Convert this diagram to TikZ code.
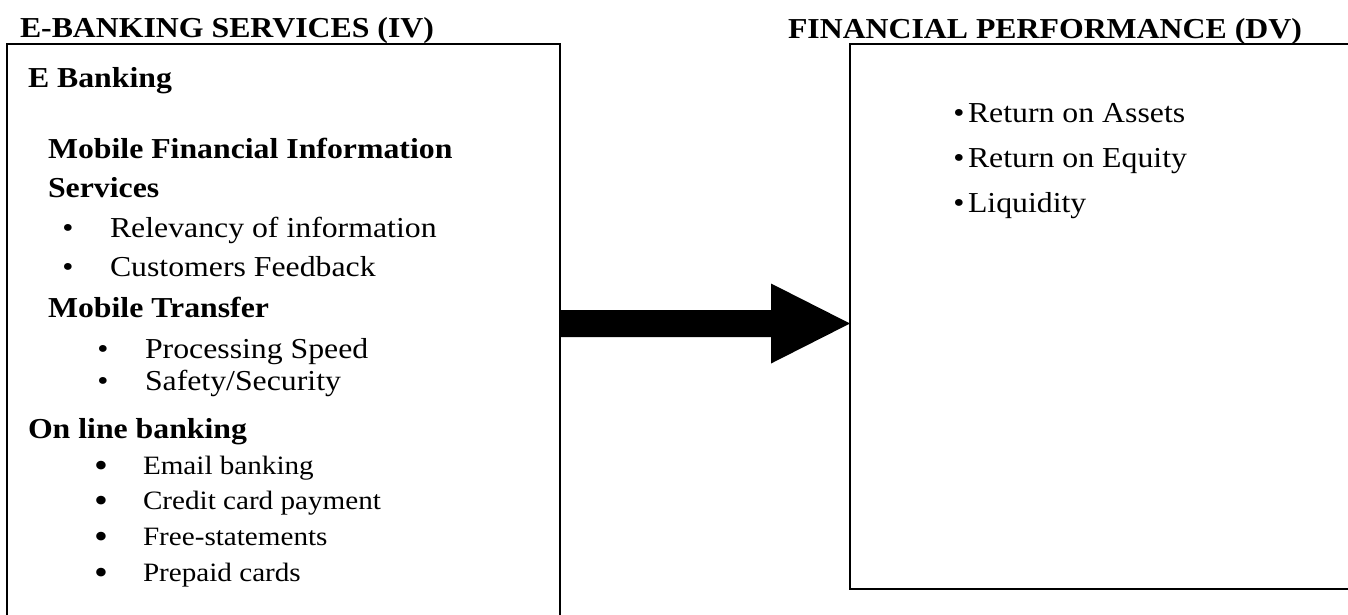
\documentclass[tikz,border=0pt]{standalone}
\usepackage{fontspec}
\setmainfont{Liberation Serif}[FakeStretch=1.1]
\usetikzlibrary{calc}
\newcommand\myhead{\fontsize{28.9}{34}\selectfont\bfseries}
\newcommand\mybody{\fontsize{28.9}{34}\selectfont}
\newcommand\mysmall{\fontsize{26.5}{31}\selectfont}
\newcommand\mybig{\fontsize{36}{40}\selectfont}
\begin{document}
\begin{tikzpicture}[x=1pt,y=-1pt,
  box/.style={draw, line width=2pt, inner sep=0pt, outer sep=0pt, anchor=north west},
  txt/.style={anchor=base west, inner sep=0pt, outer sep=0pt},
  hd/.style={txt, font=\myhead},
  bd/.style={txt, font=\mybody},
  sm/.style={txt, font=\mysmall},
  bb/.style={txt, font=\mybig}]
\useasboundingbox (0,0) rectangle (1348,614);
\node[box, minimum width=553pt, minimum height=620pt] (lbox) at (7,44) {};
\node[box, minimum width=530pt, minimum height=545pt] (rbox) at (850,44) {};
% arrow
\coordinate (as) at (lbox.east |- 0,323.5);
\coordinate (at) at (rbox.west |- 0,323.5);
\fill ($(as)+(0,-13.5)$) -- ($(at)+(-79,-13.5)$) -- ($(at)+(-79,-40)$) -- (at)
  -- ($(at)+(-79,40)$) -- ($(at)+(-79,13.5)$) -- ($(as)+(0,13.5)$) -- cycle;
% titles
\node[hd] (t1) at (20,37) {E-BANKING SERVICES (IV)};
\node[hd] (t2) at (788,38) {FINANCIAL PERFORMANCE (DV)};
% left box
\node[hd] (eb) at (28,87) {E Banking};
\node[hd] (mf) at (48,158) {Mobile Financial Information};
\node[hd] (sv) at (48,197) {Services};
\node[bd] (b1) at (62.4,237) {•};
\node[bd] (r1) at (110,237) {Relevancy of information};
\node[bd] (b2) at (62.4,276) {•};
\node[bd] (r2) at (110,276) {Customers Feedback};
\node[hd] (mt) at (48,317) {Mobile Transfer};
\node[bd] (b3) at (97.4,358) {•};
\node[bd] (r3) at (145,358) {Processing Speed};
\node[bd] (b4) at (97.4,390) {•};
\node[bd] (r4) at (145,390) {Safety/Security};
\node[hd] (ol) at (28,438) {On line banking};
\node[bb] (b5) at (94.1,477.7) {•};
\node[sm] (r5) at (143,474) {Email banking};
\node[bb] (b6) at (94.1,512.7) {•};
\node[sm] (r6) at (143,509) {Credit card payment};
\node[bb] (b7) at (94.1,548.7) {•};
\node[sm] (r7) at (143,545) {Free-statements};
\node[bb] (b8) at (94.1,584.7) {•};
\node[sm] (r8) at (143,581) {Prepaid cards};
% right box
\node[bd] (c1) at (953.4,122) {•};
\node[bd] (s1) at (968,122) {Return on Assets};
\node[bd] (c2) at (953.4,167) {•};
\node[bd] (s2) at (968,167) {Return on Equity};
\node[bd] (c3) at (953.4,212) {•};
\node[bd] (s3) at (968,212) {Liquidity};
\end{tikzpicture}
\end{document}
